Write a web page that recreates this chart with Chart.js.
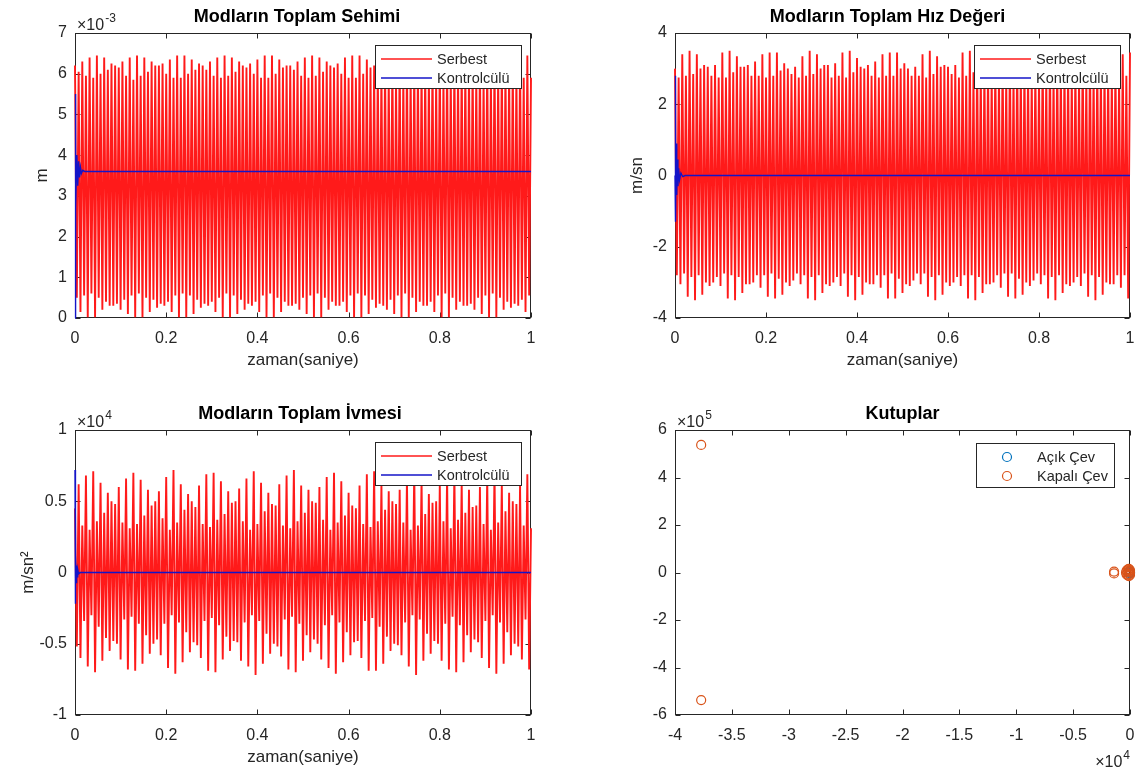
<!DOCTYPE html>
<html lang="tr">
<head>
<meta charset="utf-8">
<title>Modal Yanıtlar ve Kutuplar</title>
<script src="https://cdn.jsdelivr.net/npm/chart.js@4.4.1/dist/chart.umd.min.js"></script>
<style>
  html, body { margin: 0; padding: 0; background: #ffffff; }
  #sahne { position: relative; width: 1139px; height: 774px; overflow: hidden; background: #ffffff; }
  #sahne canvas { position: absolute; left: 0; top: 0; }
</style>
</head>
<body>
<div id="sahne">
  <canvas id="sehimGrafik" width="1139" height="774"></canvas>
  <canvas id="hizGrafik" width="1139" height="774"></canvas>
  <canvas id="ivmeGrafik" width="1139" height="774"></canvas>
  <canvas id="kutupGrafik" width="1139" height="774"></canvas>
</div>
<script>
// ---- Veriler ----
// Serbest titreşimde ardışık tepe/çukur örnekleri arasındaki süre (s)
const tepeAraligi = 0.008;

// Yerdeğiştirme, serbest (x10^-3 m): tepeler ve çukurlar
const sehimTepe = [
  6.2, 6.05, 6.3, 5.95, 6.4, 5.9, 6.45, 6.0, 6.4, 6.1, 6.25,
  6.2, 6.15, 6.3, 5.95, 6.4, 5.85, 6.45, 5.95, 6.4, 6.05, 6.3,
  6.2, 6.2, 6.25, 6.0, 6.35, 5.9, 6.45, 5.9, 6.45, 6.0, 6.35,
  6.1, 6.25, 6.2, 6.1, 6.3, 5.95, 6.4, 5.9, 6.45, 5.95, 6.4,
  6.05, 6.3, 6.2, 6.15, 6.25, 6.0, 6.35, 5.9, 6.45, 5.9, 6.45,
  6.0, 6.35, 6.15, 6.2, 6.2, 6.1, 6.3, 5.95, 6.4, 5.9, 6.45,
  5.95, 6.4, 6.05, 6.3, 6.2, 6.15, 6.25, 6.0, 6.4, 5.9, 6.45,
  5.9, 6.45, 6.0, 6.35, 6.15, 6.2, 6.2, 6.1, 6.3, 5.95, 6.4,
  5.9, 6.45, 5.95, 6.4, 6.05, 6.3, 6.2, 6.15, 6.25, 6.0, 6.35,
  5.9, 6.45, 5.9, 6.45, 6.0, 6.35, 6.1, 6.25, 6.2, 6.1, 6.3,
  5.95, 6.4, 5.9, 6.45, 5.95, 6.4, 6.05, 6.3, 6.2, 6.15, 6.25,
  6.0, 6.4, 5.9, 6.45, 5.9
];
const sehimCukur = [
  0.5, 0.15, 0.55, 0.02, 0.6, 0.02, 0.5, 0.2, 0.4, 0.3, 0.3,
  0.35, 0.2, 0.45, 0.1, 0.55, 0.02, 0.6, 0.02, 0.5, 0.15, 0.45,
  0.25, 0.35, 0.3, 0.4, 0.15, 0.55, 0.02, 0.6, 0.02, 0.55, 0.1,
  0.45, 0.25, 0.35, 0.3, 0.4, 0.15, 0.5, 0.02, 0.6, 0.02, 0.55,
  0.1, 0.45, 0.2, 0.35, 0.3, 0.4, 0.15, 0.55, 0.02, 0.6, 0.02,
  0.5, 0.15, 0.4, 0.3, 0.3, 0.35, 0.2, 0.5, 0.1, 0.55, 0.02,
  0.6, 0.02, 0.5, 0.2, 0.4, 0.3, 0.3, 0.4, 0.15, 0.55, 0.02,
  0.6, 0.02, 0.55, 0.1, 0.45, 0.25, 0.35, 0.3, 0.2, 0.45, 0.1,
  0.55, 0.02, 0.6, 0.02, 0.5, 0.15, 0.4, 0.3, 0.3, 0.4, 0.15,
  0.55, 0.02, 0.6, 0.02, 0.5, 0.2, 0.4, 0.3, 0.3, 0.35, 0.2,
  0.5, 0.1, 0.55, 0.02, 0.6, 0.02, 0.5, 0.2, 0.4, 0.25, 0.35,
  0.3, 0.45, 0.15, 0.55
];
// Yerdeğiştirme, kontrolcülü (x10^-3 m)
const sehimKontrolZaman = [0, 0.0005, 0.002, 0.004, 0.006, 0.008, 0.010, 0.012, 0.014, 0.017, 0.021, 1];
const sehimKontrol      = [0, 5.5, 2.7, 4.0, 3.25, 3.85, 3.45, 3.7, 3.55, 3.63, 3.6, 3.6];

// Hız, serbest (m/sn)
const hizTepe = [
  3.0, 2.75, 3.4, 2.8, 3.5, 2.85, 3.4, 3.0, 3.1, 3.05, 2.8,
  3.1, 2.75, 3.45, 2.75, 3.5, 2.9, 3.35, 3.05, 3.05, 3.1, 2.8,
  3.2, 2.8, 3.4, 2.75, 3.45, 2.8, 3.45, 2.95, 3.15, 3.0, 2.85,
  3.05, 2.75, 3.35, 2.8, 3.5, 2.85, 3.4, 3.0, 3.1, 3.1, 2.75,
  3.15, 2.8, 3.45, 2.75, 3.5, 2.9, 3.3, 3.05, 3.0, 3.1, 2.8,
  3.2, 2.75, 3.4, 2.8, 3.45, 2.8, 3.45, 3.0, 3.15, 3.0, 2.8,
  3.05, 2.8, 3.4, 2.75, 3.5, 2.85, 3.35, 3.05, 3.1, 3.05, 2.85,
  3.1, 2.75, 3.45, 2.8, 3.5, 2.9, 3.4, 2.95, 3.05, 3.1, 2.8,
  3.2, 2.8, 3.35, 2.75, 3.45, 2.8, 3.45, 3.0, 3.15, 3.0, 2.75,
  3.05, 2.75, 3.4, 2.8, 3.5, 2.85, 3.4, 3.05, 3.1, 3.1, 2.8,
  3.15, 2.8, 3.45, 2.75, 3.5, 2.9, 3.3, 3.0, 3.05, 3.05, 2.85,
  3.2, 2.75, 3.4, 2.8, 3.45
];
const hizCukur = [
  -2.8, -3.05, -2.75, -3.4, -2.85, -3.5, -2.8, -3.35, -3.0, -3.1, -3.0,
  -2.85, -3.1, -2.75, -3.45, -2.8, -3.5, -2.85, -3.3, -3.05, -3.05, -3.0,
  -2.8, -3.15, -2.8, -3.4, -2.75, -3.45, -2.9, -3.35, -3.0, -3.1, -2.95,
  -2.75, -3.05, -2.8, -3.45, -2.85, -3.5, -2.8, -3.3, -3.05, -3.1, -3.0,
  -2.85, -3.1, -2.75, -3.4, -2.8, -3.5, -2.85, -3.35, -3.0, -3.05, -3.05,
  -2.8, -3.15, -2.8, -3.45, -2.75, -3.45, -2.9, -3.3, -3.05, -3.1, -2.95,
  -2.75, -3.05, -2.75, -3.4, -2.85, -3.5, -2.8, -3.35, -3.0, -3.1, -3.0,
  -2.85, -3.1, -2.8, -3.45, -2.8, -3.5, -2.85, -3.3, -3.05, -3.05, -3.0,
  -2.8, -3.15, -2.75, -3.4, -2.75, -3.45, -2.9, -3.35, -3.0, -3.1, -2.95,
  -2.75, -3.05, -2.8, -3.45, -2.85, -3.5, -2.8, -3.3, -3.05, -3.1, -3.0,
  -2.85, -3.1, -2.75, -3.4, -2.8, -3.5, -2.85, -3.35, -3.0, -3.05, -3.05,
  -2.8, -3.15, -2.8, -3.45
];
// Hız, kontrolcülü (m/sn)
const hizKontrolZaman = [0, 0.0006, 0.0016, 0.0026, 0.0038, 0.005, 0.0065, 0.008, 0.010, 0.013, 0.017, 0.022, 1];
const hizKontrol      = [0, 2.8, -1.3, 0.9, -0.55, 0.45, -0.3, 0.2, -0.12, 0.07, -0.03, 0, 0];

// İvme, serbest (x10^4 m/sn^2)
const ivmeTepe = [
  0.45, 0.62, 0.33, 0.68, 0.3, 0.71, 0.36, 0.63, 0.42, 0.56, 0.5,
  0.48, 0.6, 0.35, 0.66, 0.31, 0.7, 0.34, 0.65, 0.4, 0.58, 0.47,
  0.5, 0.57, 0.38, 0.67, 0.3, 0.72, 0.35, 0.62, 0.44, 0.55, 0.5,
  0.46, 0.61, 0.34, 0.69, 0.32, 0.7, 0.37, 0.64, 0.41, 0.57, 0.49,
  0.5, 0.59, 0.36, 0.66, 0.3, 0.71, 0.34, 0.63, 0.43, 0.56, 0.48,
  0.47, 0.62, 0.33, 0.68, 0.31, 0.72, 0.36, 0.61, 0.42, 0.58, 0.5,
  0.49, 0.6, 0.37, 0.67, 0.3, 0.7, 0.35, 0.64, 0.4, 0.56, 0.47,
  0.45, 0.61, 0.34, 0.69, 0.32, 0.71, 0.36, 0.62, 0.44, 0.57, 0.5,
  0.48, 0.58, 0.35, 0.66, 0.3, 0.72, 0.33, 0.65, 0.41, 0.55, 0.49,
  0.5, 0.62, 0.36, 0.68, 0.31, 0.7, 0.37, 0.63, 0.42, 0.58, 0.46,
  0.47, 0.6, 0.34, 0.67, 0.3, 0.71, 0.35, 0.62, 0.43, 0.56, 0.5,
  0.48, 0.61, 0.33, 0.69, 0.31
];
const ivmeCukur = [
  -0.52, -0.6, -0.34, -0.66, -0.3, -0.7, -0.38, -0.62, -0.46, -0.55, -0.48,
  -0.5, -0.61, -0.33, -0.68, -0.31, -0.69, -0.36, -0.64, -0.44, -0.57, -0.5,
  -0.47, -0.58, -0.36, -0.67, -0.3, -0.71, -0.35, -0.63, -0.42, -0.56, -0.49,
  -0.51, -0.6, -0.34, -0.69, -0.32, -0.7, -0.37, -0.61, -0.45, -0.55, -0.48,
  -0.49, -0.62, -0.35, -0.66, -0.3, -0.72, -0.34, -0.64, -0.43, -0.57, -0.5,
  -0.52, -0.59, -0.33, -0.68, -0.31, -0.7, -0.36, -0.62, -0.44, -0.56, -0.47,
  -0.5, -0.61, -0.37, -0.67, -0.3, -0.71, -0.35, -0.63, -0.42, -0.58, -0.49,
  -0.48, -0.6, -0.34, -0.69, -0.32, -0.69, -0.38, -0.64, -0.45, -0.55, -0.5,
  -0.51, -0.58, -0.35, -0.66, -0.3, -0.72, -0.33, -0.62, -0.43, -0.57, -0.48,
  -0.5, -0.62, -0.36, -0.68, -0.31, -0.7, -0.37, -0.63, -0.44, -0.56, -0.47,
  -0.49, -0.6, -0.34, -0.67, -0.3, -0.71, -0.35, -0.64, -0.42, -0.58, -0.5,
  -0.52, -0.61, -0.33, -0.68
];
// İvme, kontrolcülü (x10^4 m/sn^2)
const ivmeKontrolZaman = [0, 0.0005, 0.0015, 0.0025, 0.0035, 0.0045, 0.006, 0.008, 0.011, 1];
const ivmeKontrol      = [0.72, -0.22, 0.12, -0.07, 0.05, -0.03, 0.02, -0.01, 0, 0];

// Kutuplar: gerçel kısım (x10^4), sanal kısım (x10^5)
const acikCevReel   = [0, 0, 0, 0, 0, 0];
const acikCevSanal  = [0.004, -0.004, 0.016, -0.016, 0.035, -0.035];
const kapaliCevReel  = [-3.77, -3.77, -0.14, -0.14, -0.035, -0.03, -0.03, -0.02, -0.02, -0.015,
                        -0.01, -0.01, -0.005, -0.005, 0, 0, 0];
const kapaliCevSanal = [5.37, -5.37, 0.04, -0.04, 0, 0.08, -0.08, 0.12, -0.12, 0.04,
                        0.15, -0.15, 0.06, -0.06, 0.1, -0.1, 0];

// Eksen aralıkları ve tik adımları
const zamanEkseni = { min: 0, max: 1, adim: 0.2 };
const sehimEkseni = { min: 0, max: 7, adim: 1 };
const hizEkseni   = { min: -4, max: 4, adim: 2 };
const ivmeEkseni  = { min: -1, max: 1, adim: 0.5 };
const reelEkseni  = { min: -4, max: 0, adim: 0.5 };
const sanalEkseni = { min: -6, max: 6, adim: 2 };

// ---- Görünüm ----
const YAZI = '"Liberation Sans", Arial, Helvetica, sans-serif';
const KOYU = '#262626';
const KIRMIZI = '#ff1a1a';
const MAVI = '#1414c8';
const ACIK_RENK = '#0072bd';
const KAPALI_RENK = '#d95319';

function salinimNoktalari(tepe, cukur) {
  const pts = [];
  for (let i = 0; i < tepe.length; i++) {
    pts.push({ x: i * tepeAraligi, y: tepe[i] });
    if (i < cukur.length) pts.push({ x: i * tepeAraligi + tepeAraligi / 2, y: cukur[i] });
  }
  return pts;
}
function eslestir(xs, ys) { return xs.map((x, i) => ({ x: x, y: ys[i] })); }
function tikYazisi(v) { return String(parseFloat(Number(v).toFixed(2))); }

function kenarlar(a) {
  return { L: Math.round(a.left) + 0.5, R: Math.round(a.right) - 0.5,
           T: Math.round(a.top) + 0.5, B: Math.round(a.bottom) - 0.5 };
}

// MATLAB tarzı kutu ve içe dönük tikler (veriler bunun üstüne çizilir),
// ardından başlık, eksen adları, çarpanlar ve lejant
const matlabCerceve = {
  id: 'matlabCerceve',
  beforeDatasetsDraw(chart) {
    const ctx = chart.ctx;
    const xs = chart.scales.x, ys = chart.scales.y;
    const { L, R, T, B } = kenarlar(chart.chartArea);
    ctx.save();
    ctx.strokeStyle = KOYU;
    ctx.lineWidth = 1;
    ctx.strokeRect(L, T, R - L, B - T);
    const tl = 5;
    ctx.beginPath();
    xs.ticks.forEach(t => {
      const p = Math.round(xs.getPixelForValue(t.value)) + 0.5;
      ctx.moveTo(p, B); ctx.lineTo(p, B - tl);
      ctx.moveTo(p, T); ctx.lineTo(p, T + tl);
    });
    ys.ticks.forEach(t => {
      const p = Math.round(ys.getPixelForValue(t.value)) + 0.5;
      ctx.moveTo(L, p); ctx.lineTo(L + tl, p);
      ctx.moveTo(R, p); ctx.lineTo(R - tl, p);
    });
    ctx.stroke();
    ctx.restore();
  },
  afterDraw(chart, _args, o) {
    const ctx = chart.ctx;
    const a = chart.chartArea;
    ctx.save();

    // Başlık
    ctx.fillStyle = '#000';
    ctx.font = 'bold 18px ' + YAZI;
    ctx.textAlign = 'center';
    ctx.textBaseline = 'alphabetic';
    ctx.fillText(o.baslik, (a.left + a.right) / 2 + (o.baslikKaydir || 0), a.top - 11);

    // Eksen adları
    ctx.fillStyle = KOYU;
    ctx.font = '17px ' + YAZI;
    if (o.xAdi) ctx.fillText(o.xAdi, (a.left + a.right) / 2, a.bottom + 47);
    if (o.yAdi) {
      ctx.save();
      ctx.translate(o.yAdiX, (a.top + a.bottom) / 2);
      ctx.rotate(-Math.PI / 2);
      ctx.textBaseline = 'middle';
      ctx.fillText(o.yAdi, 0, 0);
      ctx.restore();
    }

    // Üs çarpanları (x10^n)
    (o.carpanlar || []).forEach(c => {
      ctx.textAlign = 'left';
      ctx.textBaseline = 'alphabetic';
      const govde = '\u00d710';
      ctx.font = '16px ' + YAZI;
      const w1 = ctx.measureText(govde).width;
      ctx.font = '12px ' + YAZI;
      const w2 = ctx.measureText(c.us).width;
      let x0, y0;
      if (c.konum === 'ust') { x0 = a.left + 2; y0 = a.top - 3; }
      else { x0 = a.right - 1 - w1 - w2; y0 = a.bottom + 52; }
      ctx.font = '16px ' + YAZI;
      ctx.fillText(govde, x0, y0);
      ctx.font = '12px ' + YAZI;
      ctx.fillText(c.us, x0 + w1 + 1, y0 - 8);
    });

    // Lejant kutusu
    const g = o.lejant;
    if (g) {
      const x0 = Math.round(a.right - g.sag - g.gen), y0 = Math.round(a.top + g.ust);
      ctx.fillStyle = '#fff';
      ctx.fillRect(x0, y0, g.gen, g.yuk);
      ctx.strokeStyle = KOYU;
      ctx.lineWidth = 1;
      ctx.strokeRect(x0 + 0.5, y0 + 0.5, g.gen, g.yuk);
      chart.data.datasets.forEach((ds, i) => {
        const yy = y0 + 14 + i * 19;
        ctx.strokeStyle = ds.borderColor;
        if (g.tur === 'cizgi') {
          ctx.lineWidth = 1.3;
          ctx.beginPath();
          ctx.moveTo(x0 + 6, yy); ctx.lineTo(x0 + 57, yy);
          ctx.stroke();
        } else {
          ctx.lineWidth = 1.2;
          ctx.beginPath();
          ctx.arc(x0 + 31, yy, 4.5, 0, Math.PI * 2);
          ctx.stroke();
        }
        ctx.fillStyle = KOYU;
        ctx.font = '14.5px ' + YAZI;
        ctx.textAlign = 'left';
        ctx.textBaseline = 'middle';
        ctx.fillText(ds.label, x0 + g.metinX, yy + 1);
      });
    }
    ctx.restore();
  }
};

function olcek(ek, yatay, boyut) {
  return {
    type: 'linear',
    min: ek.min, max: ek.max,
    grid: { display: false, drawTicks: false },
    border: { display: false },
    ticks: {
      stepSize: ek.adim, autoSkip: false, maxRotation: 0,
      color: KOYU, padding: yatay ? 11 : 8,
      font: { family: YAZI, size: 16 },
      callback: tikYazisi
    },
    // eksen kutusunun boyutu sabit; uç etiketler için ek boşluk bırakılmaz
    afterFit: s => {
      if (yatay) s.height = boyut; else s.width = boyut;
      s.paddingLeft = 0; s.paddingRight = 0; s.paddingTop = 0; s.paddingBottom = 0;
    }
  };
}

// alan: çizim alanının sayfa üzerindeki kenarları
function ortakSecenekler(alan, xEk, yEk, cerceve) {
  const yGen = 60, xYuk = 60;
  return {
    responsive: false, animation: false, devicePixelRatio: 1, events: [],
    layout: { padding: { left: alan.sol - yGen, top: alan.ust, right: 1139 - alan.sag, bottom: 774 - alan.alt - xYuk } },
    scales: { x: olcek(xEk, true, xYuk), y: olcek(yEk, false, yGen) },
    plugins: { legend: { display: false }, tooltip: { enabled: false }, title: { display: false }, matlabCerceve: cerceve }
  };
}

const cizgiLejanti = { tur: 'cizgi', sag: 10, ust: 12, gen: 146, yuk: 43, metinX: 62 };

function zamanGrafigi(id, alan, yEk, tepe, cukur, kZaman, kDeger, cerceve) {
  return new Chart(document.getElementById(id), {
    type: 'line',
    data: {
      datasets: [
        { label: 'Serbest', data: salinimNoktalari(tepe, cukur), borderColor: KIRMIZI, borderWidth: 1.9,
          pointRadius: 0, tension: 0, order: 1, clip: 1 },
        { label: 'Kontrolcülü', data: eslestir(kZaman, kDeger), borderColor: MAVI, borderWidth: 1.4,
          pointRadius: 0, tension: 0, order: 0, clip: 1 }
      ]
    },
    options: ortakSecenekler(alan, zamanEkseni, yEk, cerceve),
    plugins: [matlabCerceve]
  });
}

zamanGrafigi('sehimGrafik', { sol: 75, sag: 531, ust: 33, alt: 318 }, sehimEkseni,
  sehimTepe, sehimCukur, sehimKontrolZaman, sehimKontrol,
  { baslik: 'Modların Toplam Sehimi', baslikKaydir: -6, xAdi: 'zaman(saniye)', yAdi: 'm', yAdiX: 42,
    carpanlar: [{ konum: 'ust', us: '-3' }], lejant: cizgiLejanti });

zamanGrafigi('hizGrafik', { sol: 675, sag: 1130, ust: 33, alt: 318 }, hizEkseni,
  hizTepe, hizCukur, hizKontrolZaman, hizKontrol,
  { baslik: 'Modların Toplam Hız Değeri', baslikKaydir: -15, xAdi: 'zaman(saniye)', yAdi: 'm/sn', yAdiX: 637,
    lejant: cizgiLejanti });

zamanGrafigi('ivmeGrafik', { sol: 75, sag: 531, ust: 430, alt: 715 }, ivmeEkseni,
  ivmeTepe, ivmeCukur, ivmeKontrolZaman, ivmeKontrol,
  { baslik: 'Modların Toplam İvmesi', baslikKaydir: -3, xAdi: 'zaman(saniye)', yAdi: 'm/sn²', yAdiX: 28,
    carpanlar: [{ konum: 'ust', us: '4' }], lejant: cizgiLejanti });

new Chart(document.getElementById('kutupGrafik'), {
  type: 'scatter',
  data: {
    datasets: [
      { label: 'Açık Çev', data: eslestir(acikCevReel, acikCevSanal), borderColor: ACIK_RENK,
        backgroundColor: 'rgba(0,0,0,0)', pointRadius: 4.5, borderWidth: 1.2, pointStyle: 'circle', clip: false, order: 1 },
      { label: 'Kapalı Çev', data: eslestir(kapaliCevReel, kapaliCevSanal), borderColor: KAPALI_RENK,
        backgroundColor: 'rgba(0,0,0,0)', pointRadius: 4.5, borderWidth: 1.2, pointStyle: 'circle', clip: false, order: 0 }
    ]
  },
  options: ortakSecenekler({ sol: 675, sag: 1130, ust: 430, alt: 715 }, reelEkseni, sanalEkseni,
    { baslik: 'Kutuplar', baslikKaydir: 0,
      carpanlar: [{ konum: 'ust', us: '5' }, { konum: 'alt', us: '4' }],
      lejant: { tur: 'daire', sag: 16, ust: 13, gen: 138, yuk: 44, metinX: 61 } }),
  plugins: [matlabCerceve]
});
</script>
</body>
</html>
